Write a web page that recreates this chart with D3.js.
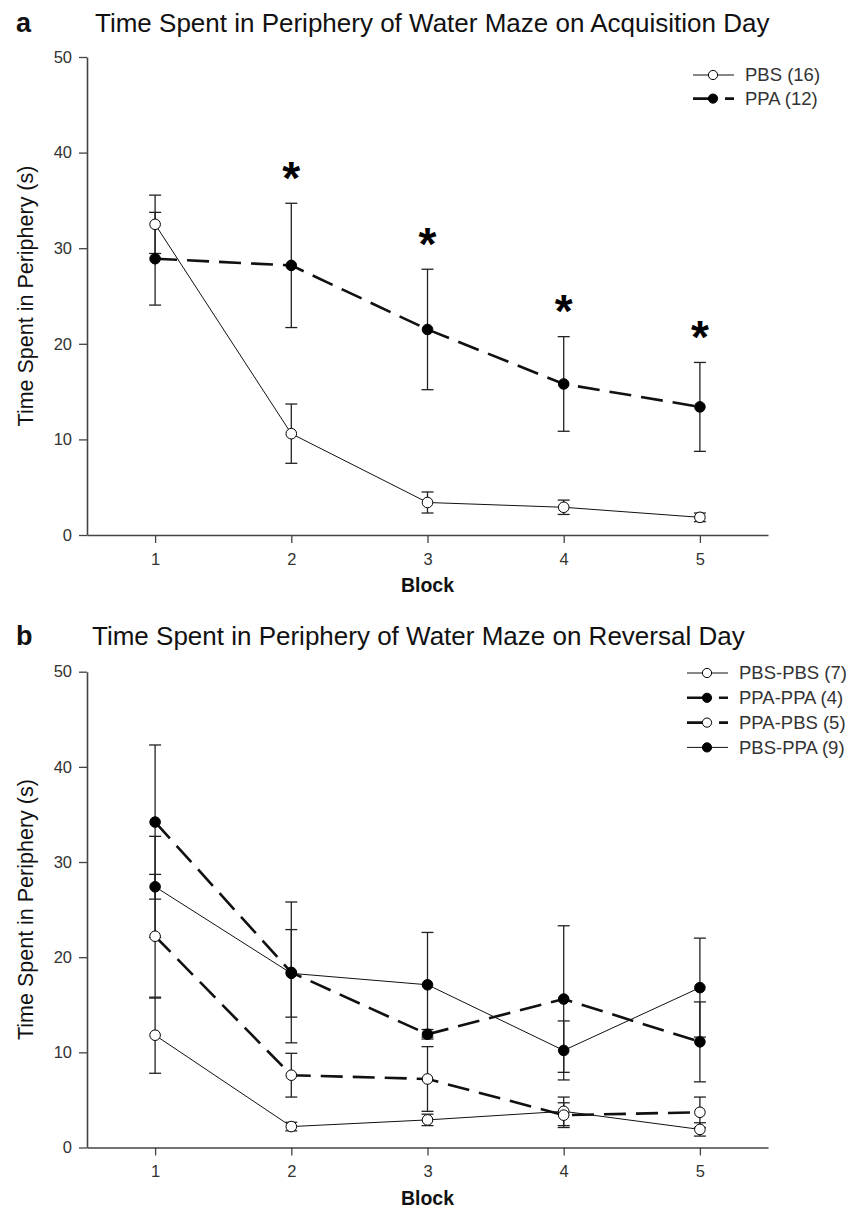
<!DOCTYPE html>
<html>
<head>
<meta charset="utf-8">
<script src="https://cdn.jsdelivr.net/npm/d3@7"></script>
<style>
    body { margin: 0; background: #fff; }
    svg { display: block; font-family: "Liberation Sans", Arial, sans-serif; }
</style>
</head>
<body>
<div id="chart"></div>
<script>

// ---- data ----
const blocks = [1, 2, 3, 4, 5];
const yTicks = [0, 10, 20, 30, 40, 50];

// panel a - acquisition day
const pbsMean = [32.5, 10.6, 3.4, 2.9, 1.85];
const pbsErr  = [3.05, 3.1, 1.1, 0.75, 0.45];
const ppaMean = [28.9, 28.2, 21.5, 15.8, 13.4];
const ppaErr  = [4.85, 6.5, 6.3, 4.95, 4.65];
const sigBlocks = [2, 3, 4, 5];

// panel b - reversal day
const pbsPbsMean = [11.8, 2.2, 2.9, 3.8, 1.9];
const pbsPbsErr  = [4.0, 0.45, 0.6, 1.5, 0.7];
const ppaPpaMean = [34.2, 18.4, 11.9, 15.6, 11.1];
const ppaPpaErr  = [8.1, 7.4, 0.5, 7.7, 4.2];
const ppaPbsMean = [22.2, 7.6, 7.2, 3.4, 3.7];
const ppaPbsErr  = [6.5, 2.3, 3.4, 1.3, 1.6];
const pbsPpaMean = [27.4, 18.3, 17.1, 10.2, 16.8];
const pbsPpaErr  = [5.3, 4.6, 5.5, 3.1, 5.2];

// line / marker styles
const styles = {
    openSolid:   {filled: false, dashed: false},
    filledDash:  {filled: true,  dashed: true},
    openDash:    {filled: false, dashed: true},
    filledSolid: {filled: true,  dashed: false}
};

const panels = [
    {
        letter: "a",
        title: "Time Spent in Periphery of Water Maze on Acquisition Day",
        top: 57, bottom: 535, titleY: 32, titleX: 95,
        legendY: 75,
        series: [
            {label: "PBS (16)", mean: pbsMean, err: pbsErr, style: styles.openSolid},
            {label: "PPA (12)", mean: ppaMean, err: ppaErr, style: styles.filledDash}
        ],
        stars: {blocks: sigBlocks, mean: ppaMean, err: ppaErr}
    },
    {
        letter: "b",
        title: "Time Spent in Periphery of Water Maze on Reversal Day",
        top: 671.7, bottom: 1147.5, titleY: 645, titleX: 92,
        legendY: 673,
        series: [
            {label: "PBS-PBS (7)", mean: pbsPbsMean, err: pbsPbsErr, style: styles.openSolid},
            {label: "PPA-PPA (4)", mean: ppaPpaMean, err: ppaPpaErr, style: styles.filledDash},
            {label: "PPA-PBS (5)", mean: ppaPbsMean, err: ppaPbsErr, style: styles.openDash},
            {label: "PBS-PPA (9)", mean: pbsPpaMean, err: pbsPpaErr, style: styles.filledSolid}
        ],
        stars: null
    }
];

const width = 860, height = 1209;
const left = 87, right = 768;
const ink = "#111";
const axisGrey = "#444";
const dash = "22,10";
const r = 5.3;

const svg = d3.select("#chart").append("svg")
    .attr("width", width)
    .attr("height", height);

panels.forEach(p => drawPanel(p));

function drawPanel(p) {
    let g = svg.append("g");

    let x = d3.scaleLinear().domain([0.5, 5.5]).range([left, right]);
    let y = d3.scaleLinear().domain([0, 50]).range([p.bottom, p.top]);

    // panel letter + title
    g.append("text")
        .attr("x", 16).attr("y", p.titleY)
        .attr("font-size", 27).attr("font-weight", "bold")
        .attr("fill", ink)
        .text(p.letter);

    g.append("text")
        .attr("x", p.titleX).attr("y", p.titleY)
        .attr("font-size", 26)
        .attr("fill", ink)
        .text(p.title);

    // axes
    let yAxis = d3.axisLeft(y).tickValues(yTicks).tickSize(8).tickSizeOuter(0).tickPadding(7);
    let xAxis = d3.axisBottom(x).tickValues(blocks).tickFormat(d3.format("d"))
        .tickSize(8).tickSizeOuter(0).tickPadding(10);

    let ya = g.append("g")
        .attr("transform", `translate(${left},0)`)
        .call(yAxis);
    let xa = g.append("g")
        .attr("transform", `translate(0,${p.bottom})`)
        .call(xAxis);

    [ya, xa].forEach(a => {
        a.attr("font-size", null).attr("font-family", null);
        a.select(".domain").attr("stroke", axisGrey).attr("stroke-width", 1.6);
        a.selectAll(".tick line").attr("stroke", axisGrey).attr("stroke-width", 1.3);
        a.selectAll(".tick text")
            .attr("fill", "#333")
            .style("font-size", "16.5px");
    });

    // axis titles
    g.append("text")
        .attr("transform", `translate(33,${(p.top + p.bottom) / 2}) rotate(-90)`)
        .attr("text-anchor", "middle")
        .attr("font-size", 21.5)
        .attr("fill", ink)
        .text("Time Spent in Periphery (s)");

    g.append("text")
        .attr("x", (left + right) / 2)
        .attr("y", p.bottom + 57)
        .attr("text-anchor", "middle")
        .attr("font-size", 19.5)
        .attr("font-weight", "bold")
        .attr("fill", ink)
        .text("Block");

    // error bars first so markers sit on top
    p.series.forEach(s => {
        let eb = g.append("g").attr("class", "errorbars");
        blocks.forEach((b, i) => {
            let hi = s.mean[i] + s.err[i], lo = s.mean[i] - s.err[i];
            eb.append("line")
                .attr("x1", x(b)).attr("x2", x(b))
                .attr("y1", y(hi)).attr("y2", y(lo))
                .attr("stroke", "#222").attr("stroke-width", 1.3);
            [hi, lo].forEach(v => {
                eb.append("line")
                    .attr("x1", x(b) - 6).attr("x2", x(b) + 6)
                    .attr("y1", y(v)).attr("y2", y(v))
                    .attr("stroke", "#222").attr("stroke-width", 1.3);
            });
        });
    });

    let line = d3.line()
        .x((d, i) => x(blocks[i]))
        .y(d => y(d));

    p.series.forEach(s => {
        g.append("path")
            .datum(s.mean)
            .attr("d", line)
            .attr("fill", "none")
            .attr("stroke", ink)
            .attr("stroke-width", s.style.dashed ? 2.6 : 1)
            .attr("stroke-dasharray", s.style.dashed ? dash : null);
    });

    p.series.forEach(s => {
        g.selectAll(null)
            .data(s.mean)
            .enter().append("circle")
            .attr("cx", (d, i) => x(blocks[i]))
            .attr("cy", d => y(d))
            .attr("r", r)
            .attr("fill", s.style.filled ? "#000" : "#fff")
            .attr("stroke", "#000")
            .attr("stroke-width", 1);
    });

    // significance stars above the PPA error bars
    if (p.stars) {
        let fs = 46;
        p.stars.blocks.forEach(b => {
            let i = blocks.indexOf(b);
            let top = y(p.stars.mean[i] + p.stars.err[i]);
            g.append("text")
                .attr("x", x(b))
                .attr("y", top - 36 + 0.58 * fs)
                .attr("text-anchor", "middle")
                .attr("font-size", fs)
                .attr("font-weight", "bold")
                .attr("fill", "#000")
                .text("*");
        });
    }

    // legend
    let lg = g.append("g").attr("class", "legend");
    let rowH = p.series.length > 2 ? 24.8 : 23.6;
    let lx0 = p.series.length > 2 ? 687 : 693;
    p.series.forEach((s, k) => {
        let ly = p.legendY + k * rowH;
        lg.append("line")
            .attr("x1", lx0).attr("x2", lx0 + 41)
            .attr("y1", ly).attr("y2", ly)
            .attr("stroke", ink)
            .attr("stroke-width", s.style.dashed ? 2.6 : 1)
            .attr("stroke-dasharray", s.style.dashed ? dash : null);
        lg.append("circle")
            .attr("cx", lx0 + 20).attr("cy", ly)
            .attr("r", 4.6)
            .attr("fill", s.style.filled ? "#000" : "#fff")
            .attr("stroke", "#000");
        lg.append("text")
            .attr("x", lx0 + 52).attr("y", ly)
            .attr("dy", "0.35em")
            .attr("font-size", 18.5)
            .attr("fill", "#333")
            .text(s.label);
    });
}
</script>
</body>
</html>
